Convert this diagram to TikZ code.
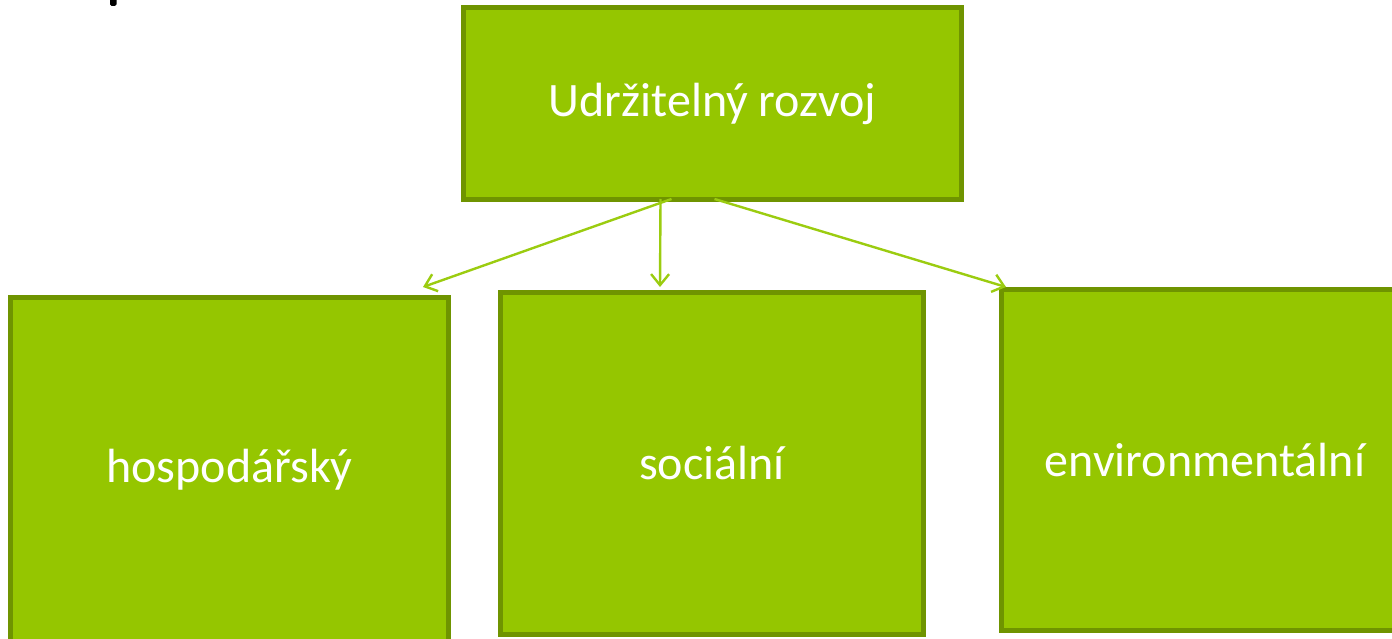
\documentclass[tikz,border=0pt]{standalone}
\usepackage{fontspec}
\setmainfont{Carlito}
\usepackage{xcolor}
\usepackage{tikz}
\usetikzlibrary{shapes,arrows.meta,positioning,calc}
\definecolor{leafgreen}{RGB}{149, 198, 0}
\definecolor{darkgreen}{RGB}{111, 148, 0}
\definecolor{linegreen}{RGB}{155, 204, 16}

\begin{document}
\begin{tikzpicture}[
    x=1pt, y=-1pt,
    block/.style={rectangle, draw=darkgreen, fill=leafgreen, line width=5pt, inner sep=0pt, text=white, font=\fontsize{48}{56}\selectfont},
    arrow/.style={-{Straight Barb[length=11pt,width=18pt]}, line width=2.4pt, color=linegreen}
]
\useasboundingbox (0,0) rectangle (1392,639);

% cut-off glyph at top left
\fill[black, rounded corners=1.5pt] (110,-3) rectangle (116.5,6);

% Main block
\node[block, minimum width=498pt, minimum height=192pt] (rozvoj) at (712.5,103.5) {Udržitelný rozvoj};

% Pillars
\node[block, minimum width=438pt, minimum height=345pt] (hosp) at (229.5,470) {hospodářský};
\node[block, minimum width=423pt, minimum height=342pt] (soc) at (712,463.5) {sociální};
\node[block, minimum width=407pt, minimum height=341pt] (env) at (1205,460) {environmentální};

% Arrows from main block to pillars
\draw[arrow] ([xshift=-41pt,yshift=3pt]rozvoj.south) -- ([xshift=-28pt,yshift=8pt]hosp.north east);
\draw[arrow] ([xshift=-52pt,yshift=3pt]rozvoj.south) -- ([xshift=-52pt,yshift=3pt]soc.north);
\draw[arrow] ([xshift=2pt,yshift=3pt]rozvoj.south) -- ([xshift=7pt]env.north west);

\end{tikzpicture}
\end{document}
